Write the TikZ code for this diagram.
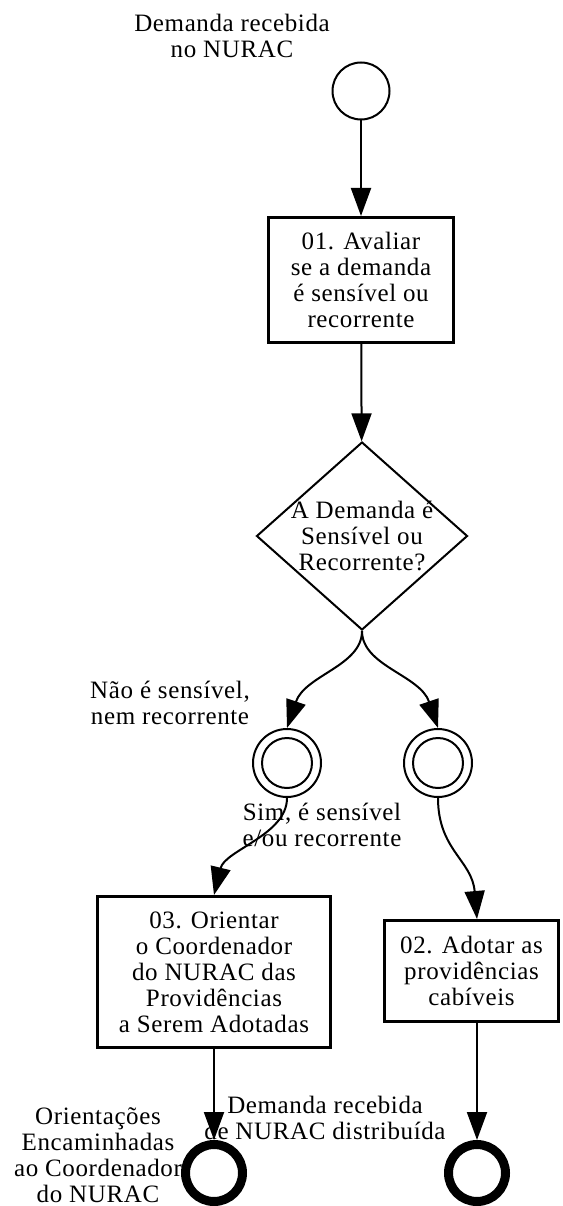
\documentclass[tikz,border=0pt]{standalone}
\usepackage{fontspec}
\setmainfont{Liberation Serif}[LetterSpace=2.5]
\usetikzlibrary{arrows.meta,shapes.geometric}
\begin{document}
\begin{tikzpicture}[x=1pt,y=-1pt,
  every node/.style={font=\fontsize{25}{26}\selectfont, align=center, text=black},
  lbl/.style={inner sep=0pt},
  task/.style={draw, line width=3pt, rectangle, inner sep=0pt},
  gateway/.style={draw, diamond, line width=2pt, inner sep=0pt,
    minimum width=211pt, minimum height=188pt},
  startev/.style={draw, circle, line width=2pt, minimum size=57pt, inner sep=0pt},
  interev/.style={draw, circle, line width=2pt, minimum size=68pt, inner sep=0pt},
  endev/.style={draw, circle, line width=9pt, minimum size=57pt, inner sep=0pt},
  flow/.style={line width=2pt, -{Triangle[length=28pt,width=20pt]}}
]
\useasboundingbox (0,0) rectangle (562,1206);

% free-standing labels
\node[lbl] (lstart) at (232,36) {Demanda recebida\\no NURAC};
\node[lbl] (lno) at (170,703) {Não é sensível,\\nem recorrente};
\node[lbl] (lyes) at (322,825) {Sim, é sensível\\e/ou recorrente};
\node[lbl] (lend1) at (98,1155) {Orientações\\Encaminhadas\\ao Coordenador\\do NURAC};
\node[lbl] (lend2) at (325,1118) {Demanda recebida\\de NURAC distribuída};

% events, tasks and gateway
\node[startev] (start) at (361,91) {};
\node[task, minimum width=185pt, minimum height=125pt] (b1) at (361,280)
  {01. Avaliar\\se a demanda\\é sensível ou\\recorrente};
\node[gateway] (gw) at (362,536) {};
\node (gwt) at (362,536) {A Demanda é\\Sensível ou\\Recorrente?};
\node[interev] (g1) at (287,763) {};
\node[interev] (g2) at (438,763) {};
\draw[line width=2pt] (g1.center) circle[radius=25pt];
\draw[line width=2pt] (g2.center) circle[radius=25pt];
\node[task, minimum width=233pt, minimum height=151pt] (b3) at (214,972)
  {03. Orientar\\o Coordenador\\do NURAC das\\Providências\\a Serem Adotadas};
\node[task, minimum width=174pt, minimum height=101pt] (b2) at (471.5,971)
  {02. Adotar as\\providências\\cabíveis};
\node[endev] (e1) at (214,1173) {};
\node[endev] (e2) at (477,1173) {};

% sequence flows
\draw[flow] (start) -- (b1);
\draw[flow] (b1) -- (gw);
\draw[flow] (gw.south) .. controls +(0,35) and (305,675) .. (g1.north);
\draw[flow] (gw.south) .. controls +(0,35) and (420,675) .. (g2.north);
\draw[flow] (g1.south) .. controls +(0,37) and (225,850) .. (b3.north);
\draw[flow] (g2.south) .. controls +(0,52) and (472,860) .. ([xshift=5.5pt]b2.north);
\draw[flow] (b3) -- (e1);
\draw[flow] ([xshift=5.5pt]b2.south) -- (e2.north);
\end{tikzpicture}
\end{document}
